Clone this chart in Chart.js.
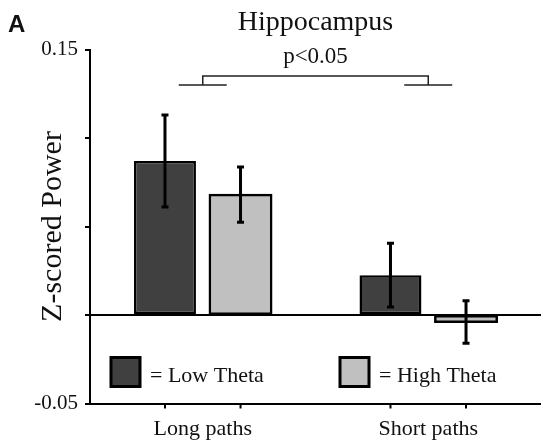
<!DOCTYPE html>
<html>
<head>
<meta charset="utf-8">
<title>Hippocampus</title>
<script src="https://cdn.jsdelivr.net/npm/chart.js@4.4.1/dist/chart.umd.min.js"></script>
<style>
  html, body { margin: 0; padding: 0; background: #fff; }
  #wrap { width: 541px; height: 448px; position: relative; }
</style>
</head>
<body>
<div id="wrap"><canvas id="chart"></canvas></div>
<script>
// Z-scored power by path length, split by theta level
const categories = ['Long paths', 'Short paths'];
const lowTheta = [0.087, 0.0225];
const highTheta = [0.068, -0.004];
const lowThetaErr = [0.026, 0.018];
const highThetaErr = [0.0156, 0.012];
const yTickLabels = { '0.15': '0.15', '-0.05': '-0.05' };
const pLabel = 'p<0.05';
const bracketLevels = [0.135, 0.13];

const serif = '"Liberation Serif", "DejaVu Serif", serif';

// error bars, drawn after the bars using the bar elements and the y scale
const errorBars = {
    id: 'errorBars',
    afterDatasetsDraw(chart) {
        const ctx = chart.ctx;
        const y = chart.scales.y;
        const errs = [lowThetaErr, highThetaErr];
        ctx.save();
        ctx.strokeStyle = '#000';
        ctx.lineWidth = 3;
        chart.data.datasets.forEach((ds, i) => {
            const meta = chart.getDatasetMeta(i);
            meta.data.forEach((bar, j) => {
                const v = ds.data[j];
                const top = y.getPixelForValue(v + errs[i][j]);
                const bot = y.getPixelForValue(v - errs[i][j]);
                ctx.beginPath();
                ctx.moveTo(bar.x, top);
                ctx.lineTo(bar.x, bot);
                ctx.moveTo(bar.x - 3.5, top);
                ctx.lineTo(bar.x + 3.5, top);
                ctx.moveTo(bar.x - 3.5, bot);
                ctx.lineTo(bar.x + 3.5, bot);
                ctx.stroke();
            });
        });
        ctx.restore();
    }
};

// panel letter, title, significance bracket, x tick marks, legend
const decorations = {
    id: 'decorations',
    afterDraw(chart) {
        const ctx = chart.ctx;
        const x = chart.scales.x;
        const y = chart.scales.y;
        const area = chart.chartArea;
        ctx.save();

        // x tick marks under each bar
        ctx.strokeStyle = '#000';
        ctx.lineWidth = 2;
        chart.data.datasets.forEach((ds, i) => {
            chart.getDatasetMeta(i).data.forEach(bar => {
                ctx.beginPath();
                ctx.moveTo(bar.x, area.bottom);
                ctx.lineTo(bar.x, area.bottom + 5);
                ctx.stroke();
            });
        });

        // significance bracket
        const xl = x.getPixelForValue(0);
        const xr = x.getPixelForValue(1);
        const yHi = y.getPixelForValue(bracketLevels[0]);
        const yLo = y.getPixelForValue(bracketLevels[1]);
        ctx.lineWidth = 1.5;
        ctx.strokeStyle = '#222';
        ctx.beginPath();
        ctx.moveTo(xl, yLo);
        ctx.lineTo(xl, yHi);
        ctx.lineTo(xr, yHi);
        ctx.lineTo(xr, yLo);
        ctx.moveTo(xl - 24, yLo);
        ctx.lineTo(xl + 24, yLo);
        ctx.moveTo(xr - 24, yLo);
        ctx.lineTo(xr + 24, yLo);
        ctx.stroke();

        const mid = (xl + xr) / 2;
        ctx.fillStyle = '#111';
        ctx.textAlign = 'center';
        ctx.textBaseline = 'alphabetic';
        ctx.font = '23px ' + serif;
        ctx.fillText(pLabel, mid, yHi - 13);

        ctx.font = '28px ' + serif;
        ctx.fillText('Hippocampus', mid, 30);

        ctx.textAlign = 'left';
        ctx.font = 'bold 24px "Liberation Sans", Arial, sans-serif';
        ctx.fillText('A', 8, 32);

        // legend inside the plot, below the zero line
        const items = chart.data.datasets;
        const slots = [area.left + 21, area.left + 250];
        ctx.font = '22px ' + serif;
        items.forEach((ds, i) => {
            const sx = slots[i];
            const sy = area.bottom - 46;
            ctx.fillStyle = ds.backgroundColor;
            ctx.fillRect(sx, sy, 29, 29);
            ctx.lineWidth = 3;
            ctx.strokeStyle = '#000';
            ctx.strokeRect(sx, sy, 29, 29);
            ctx.fillStyle = '#111';
            ctx.fillText('= ' + ds.label, sx + 39, sy + 24);
        });
        ctx.restore();
    }
};

new Chart(document.getElementById('chart'), {
    type: 'bar',
    data: {
        labels: categories,
        datasets: [
            {
                label: 'Low Theta',
                data: lowTheta,
                backgroundColor: '#404040',
                borderColor: '#000',
                borderWidth: 2.5,
                borderSkipped: false
            },
            {
                label: 'High Theta',
                data: highTheta,
                backgroundColor: '#c0c0c0',
                borderColor: '#000',
                borderWidth: 2.5,
                borderSkipped: false,
                inflateAmount: 1
            }
        ]
    },
    options: {
        responsive: true,
        maintainAspectRatio: false,
        animation: false,
        devicePixelRatio: 1,
        layout: { padding: { top: 49.5, right: 0, left: 0, bottom: 0 } },
        datasets: {
            bar: { categoryPercentage: 0.67, barPercentage: 0.82 }
        },
        plugins: {
            legend: { display: false },
            tooltip: { enabled: false }
        },
        scales: {
            x: {
                grid: { display: false, drawTicks: false },
                border: { display: true, color: '#000', width: 2 },
                ticks: {
                    color: '#111',
                    padding: 13,
                    font: { family: serif, size: 22 }
                },
                afterFit(scale) { scale.height = 44.5; }
            },
            y: {
                min: -0.05,
                max: 0.15,
                grid: {
                    drawOnChartArea: true,
                    color: ctx => (ctx.tick && ctx.tick.value === 0 ? '#000' : 'rgba(0,0,0,0)'),
                    lineWidth: 2,
                    tickColor: '#000',
                    tickLength: 5
                },
                border: { display: true, color: '#000', width: 2 },
                ticks: {
                    stepSize: 0.05,
                    color: '#111',
                    padding: 7,
                    font: { family: serif, size: 21 },
                    callback: v => yTickLabels[String(Math.round(v * 100) / 100)] || ''
                },
                title: {
                    display: true,
                    text: 'Z-scored Power',
                    color: '#111',
                    font: { family: serif, size: 30 },
                    padding: { top: 35, bottom: 0 }
                },
                afterFit(scale) { scale.width = 90; }
            }
        }
    },
    plugins: [errorBars, decorations]
});
</script>
</body>
</html>
